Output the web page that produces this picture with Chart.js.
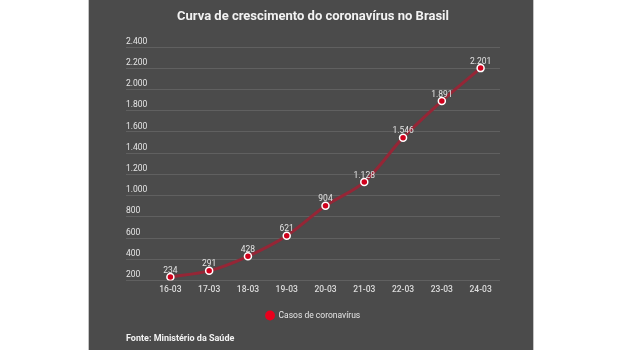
<!DOCTYPE html>
<html>
<head>
<meta charset="utf-8">
<script src="https://cdn.jsdelivr.net/npm/chart.js@4/dist/chart.umd.min.js"></script>
<style>
  body{margin:0;background:#fff;width:620px;height:350px;overflow:hidden;}
  #painel{position:absolute;left:88px;top:0;width:444px;height:350px;background:#4b4b4b;
    border-left:1px solid #c4c4c4;border-right:1px solid #c4c4c4;}
  #painel canvas{display:block;}
</style>
</head>
<body>
<div id="painel"><canvas id="grafico" width="444" height="350"></canvas></div>
<script>
// ===== DADOS =====
const dias = ["16-03","17-03","18-03","19-03","20-03","21-03","22-03","23-03","24-03"];
const casos = [234, 291, 428, 621, 904, 1128, 1546, 1891, 2201];
const yMin = 200, yMax = 2400, yPasso = 200;

const titulo = "Curva de crescimento do coronavírus no Brasil";
const serie = "Casos de coronavírus";
const fonte = "Fonte: Ministério da Saúde";

// 2400 -> "2.400"
function milhar(v){
  return String(v).replace(/\B(?=(\d{3})+(?!\d))/g, ".");
}

Chart.defaults.font.family = "Roboto";

// rótulos de valor sobre os pontos
const rotulos = {
  id: "rotulos",
  afterDatasetsDraw(chart){
    let ctx = chart.ctx;
    let meta = chart.getDatasetMeta(0);
    ctx.save();
    ctx.font = "8.5px Roboto";
    ctx.fillStyle = "#e2e2e2";
    ctx.textAlign = "center";
    ctx.textBaseline = "middle";
    meta.data.forEach((p,i)=>{
      ctx.fillText(milhar(casos[i]), p.x, p.y - 6.5);
    });
    ctx.restore();
  }
};

new Chart(document.getElementById("grafico"), {
  type: "line",
  data: {
    labels: dias,
    datasets: [{
      label: serie,
      data: casos,
      borderColor: "#952636",
      borderWidth: 3,
      tension: 0.3,
      pointRadius: 3.5,
      pointBorderWidth: 1.5,
      pointBorderColor: "#ffffff",
      pointBackgroundColor: "#d0001c"
    }]
  },
  options: {
    responsive: false,
    animation: false,
    layout: { padding: { left: 37, right: 33, top: 0, bottom: 0 } },
    plugins: {
      title: {
        display: true,
        text: titulo,
        color: "#f2f2f2",
        font: { size: 13, weight: "bold" },
        padding: { top: 8.5, bottom: 22.9 }
      },
      subtitle: {
        display: true,
        text: fonte,
        position: "bottom",
        align: "start",
        color: "#f2f2f2",
        font: { size: 9, weight: "bold" },
        padding: { top: 4, bottom: 5.5 }
      },
      legend: {
        position: "bottom",
        labels: {
          usePointStyle: true,
          pointStyle: "circle",
          boxHeight: 7,
          padding: 12.5,
          color: "#e6e6e6",
          font: { size: 8.5 },
          generateLabels(chart){
            return Chart.defaults.plugins.legend.labels.generateLabels(chart).map(l=>({
              ...l, fillStyle: "#e8001c", strokeStyle: "#e8001c", lineWidth: 0
            }));
          }
        }
      },
      tooltip: { enabled: false }
    },
    scales: {
      x: {
        offset: true,
        grid: { display: false, drawTicks: false },
        border: { display: false },
        ticks: { color: "#dcdcdc", padding: 4, font: { size: 8.5, weight: "500" } }
      },
      y: {
        min: yMin,
        max: yMax,
        afterFit(scale){ scale.width = 25; },
        grid: { color: "#606060", tickColor: "#606060", drawTicks: true, tickLength: 25 },
        border: { display: false },
        ticks: {
          stepSize: yPasso,
          crossAlign: "far",
          labelOffset: -5.5,
          padding: 0,
          color: "#e6e6e6",
          font: { size: 8.5 },
          callback: v => milhar(v)
        }
      }
    }
  },
  plugins: [rotulos]
});
</script>
</body>
</html>
